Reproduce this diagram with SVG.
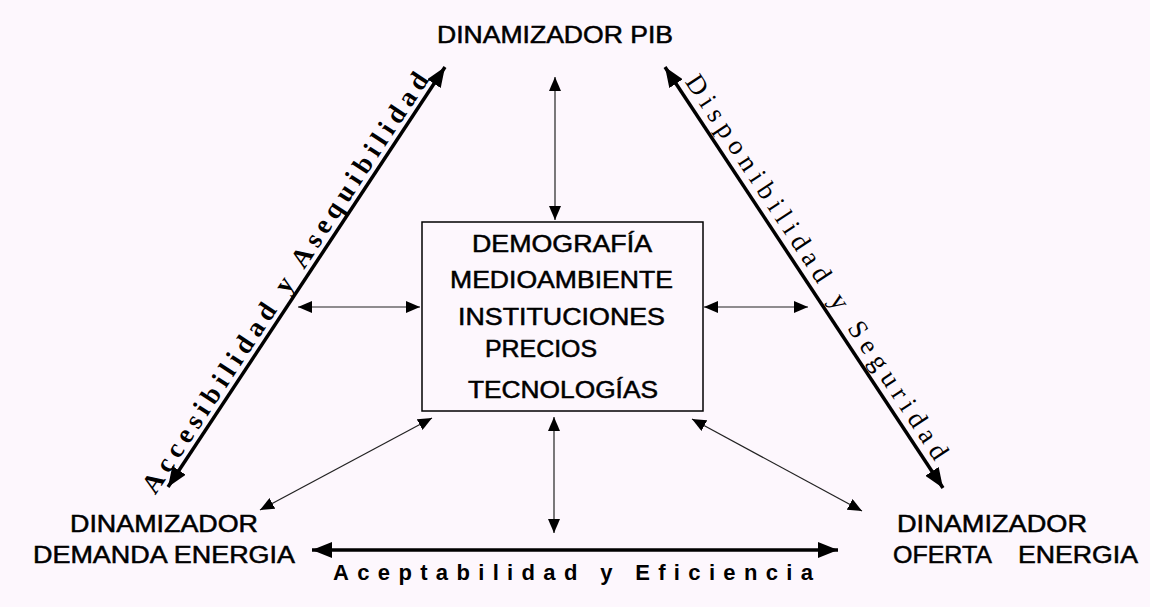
<svg xmlns="http://www.w3.org/2000/svg" width="1150" height="607" viewBox="0 0 1150 607">
<style>
.lbl{font-family:"Liberation Sans",Arial,sans-serif;font-size:23px;fill:#000;stroke:#000;stroke-width:0.5}
.diag{font-family:"Liberation Serif","Times New Roman",serif;font-size:27px;fill:#000}
.thick{stroke:#000;stroke-width:3.5;fill:none}
.thin{stroke:#222;stroke-width:1.2;fill:none}
</style>
<defs>
<marker id="bigHead" markerUnits="userSpaceOnUse" markerWidth="22" markerHeight="16" refX="20" refY="8" orient="auto-start-reverse">
<path d="M0,0 L20,8 L0,16 Z" fill="#000"/>
</marker>
<marker id="smallHead" markerUnits="userSpaceOnUse" markerWidth="15" markerHeight="12" refX="14" refY="6" orient="auto-start-reverse">
<path d="M0,0 L14,6 L0,12 Z" fill="#000"/>
</marker>
</defs>
<rect x="0" y="0" width="1150" height="607" fill="#fdf7fd"/>

<g id="connectors">
<line class="thick" x1="168" y1="487" x2="445" y2="67" marker-start="url(#bigHead)" marker-end="url(#bigHead)"/>
<line class="thick" x1="665" y1="67" x2="943" y2="488" marker-start="url(#bigHead)" marker-end="url(#bigHead)"/>
<line class="thick" x1="312" y1="550" x2="838" y2="550" marker-start="url(#bigHead)" marker-end="url(#bigHead)"/>
<line class="thin" x1="555" y1="77" x2="555" y2="220" marker-start="url(#smallHead)" marker-end="url(#smallHead)"/>
<line class="thin" x1="554" y1="417" x2="554" y2="533" marker-start="url(#smallHead)" marker-end="url(#smallHead)"/>
<line class="thin" x1="298" y1="307" x2="420" y2="307" marker-start="url(#smallHead)" marker-end="url(#smallHead)"/>
<line class="thin" x1="704" y1="307" x2="808" y2="307" marker-start="url(#smallHead)" marker-end="url(#smallHead)"/>
<line class="thin" x1="432" y1="418" x2="260" y2="510" marker-start="url(#smallHead)" marker-end="url(#smallHead)"/>
<line class="thin" x1="692" y1="419" x2="862" y2="511" marker-start="url(#smallHead)" marker-end="url(#smallHead)"/>
<g transform="translate(155.3,495.4) rotate(-56.6)">
<text class="diag" font-weight="bold" x="0" y="0" textLength="498" lengthAdjust="spacing">Accesibilidad y Asequibilidad</text>
</g>
<g transform="translate(684.4,81.8) rotate(56.6)">
<text class="diag" x="0" y="0" textLength="455" lengthAdjust="spacing">Disponibilidad y Seguridad</text>
</g>
<text x="333" y="580" font-family="Liberation Sans, Arial, sans-serif" font-size="22" font-weight="bold" textLength="480" lengthAdjust="spacing">Aceptabilidad y Eficiencia</text>
</g>

<g id="node-pib">
<text class="lbl" x="437" y="43" textLength="236" lengthAdjust="spacingAndGlyphs">DINAMIZADOR PIB</text>
</g>

<g id="node-centro">
<rect x="422" y="222" width="281" height="189" fill="none" stroke="#000" stroke-width="1.5"/>
<text class="lbl" x="472" y="252" textLength="180" lengthAdjust="spacingAndGlyphs">DEMOGRAFÍA</text>
<text class="lbl" x="450" y="288" textLength="223" lengthAdjust="spacingAndGlyphs">MEDIOAMBIENTE</text>
<text class="lbl" x="458" y="325" textLength="207" lengthAdjust="spacingAndGlyphs">INSTITUCIONES</text>
<text class="lbl" x="485" y="357" textLength="112" lengthAdjust="spacingAndGlyphs">PRECIOS</text>
<text class="lbl" x="468" y="398" textLength="190" lengthAdjust="spacingAndGlyphs">TECNOLOGÍAS</text>
</g>

<g id="node-demanda">
<text class="lbl" x="70" y="532" textLength="188" lengthAdjust="spacingAndGlyphs">DINAMIZADOR</text>
<text class="lbl" x="33" y="563" textLength="262" lengthAdjust="spacingAndGlyphs">DEMANDA ENERGIA</text>
</g>

<g id="node-oferta">
<text class="lbl" x="897" y="532" textLength="190" lengthAdjust="spacingAndGlyphs">DINAMIZADOR</text>
<text class="lbl" x="893" y="563" textLength="99" lengthAdjust="spacingAndGlyphs" stroke-width="0">OFERTA</text>
<text class="lbl" x="1018" y="563" textLength="120" lengthAdjust="spacingAndGlyphs">ENERGIA</text>
</g>
</svg>
